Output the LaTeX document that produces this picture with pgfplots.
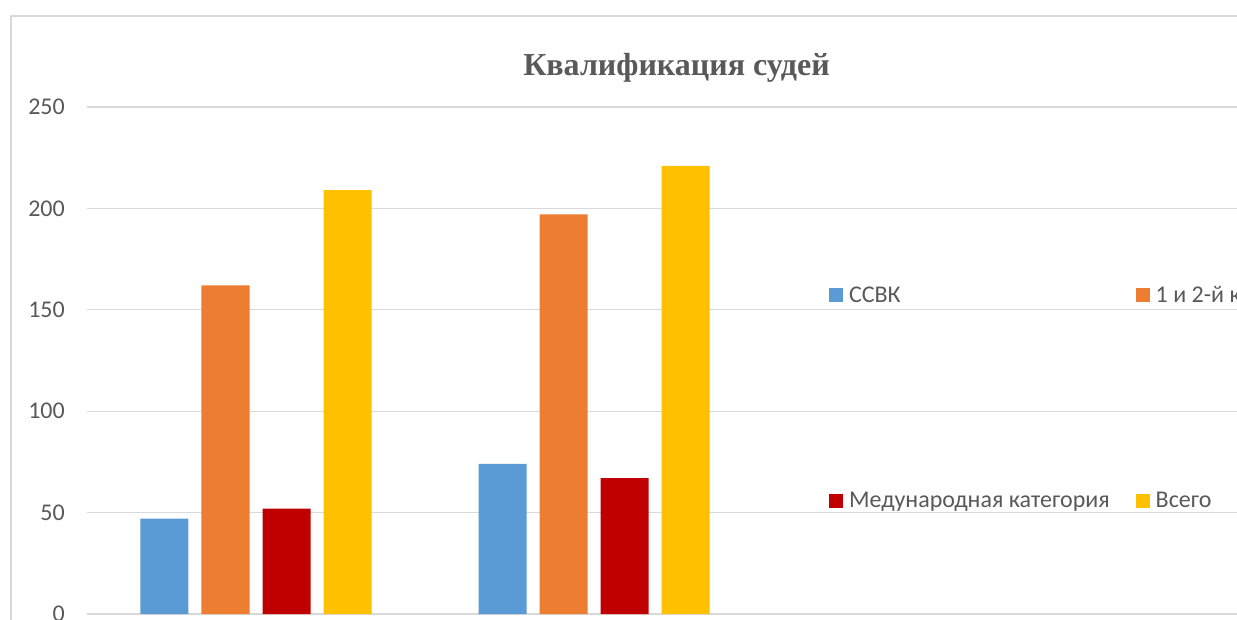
\documentclass[border=0pt]{standalone}
\usepackage{fontspec}
\setmainfont{Carlito}
\newfontfamily\titlefont{Liberation Serif}
\usepackage{pgfplots}
\pgfplotsset{compat=1.18}
\definecolor{cblue}{HTML}{5B9BD5}
\definecolor{corange}{HTML}{ED7D31}
\definecolor{cred}{HTML}{C00000}
\definecolor{cyellow}{HTML}{FFC000}
\definecolor{txtgray}{HTML}{595959}
\definecolor{gridgray}{HTML}{D9D9D9}
\begin{document}
\begin{tikzpicture}[x=1pt,y=1pt]
\useasboundingbox (0,0) rectangle (1237,619);
\clip (0,0) rectangle (1237,619);
\fill[white] (0,0) rectangle (1237,619);
\draw[gridgray, line width=1.6pt] (11,-10) -- (11,603) -- (1300,603);
\begin{axis}[
  at={(87pt,5pt)}, anchor=south west,
  scale only axis, width=1150pt, height=507pt,
  xmin=0, xmax=3.4024, ymin=0, ymax=250,
  xtick=\empty,
  ytick={0,50,100,150,200,250},
  ymajorgrids, grid style={gridgray, line width=1.3pt},
  axis line style={draw=none},
  major tick style={draw=none},
  /pgf/number format/assume math mode=true,
  yticklabel style={font=\fontsize{24}{28}\selectfont, text=txtgray, inner sep=0pt, xshift=-22pt},
  ybar, bar width=48pt,
  title={\titlefont\bfseries Квалификация судей},
  title style={font=\fontsize{32}{38}\selectfont, text=txtgray, at={(axis description cs:0.5126,1.0500)}, anchor=base, inner sep=0pt},
  legend columns=2,
  legend image code/.code={\fill[#1] (0pt,-7pt) rectangle (14pt,7pt);},
  legend style={draw=none, fill=none, at={(axis description cs:0.6452,0.6462)}, anchor=north west,
    inner sep=0pt, font=\fontsize{24}{28}\selectfont, text=txtgray,
    nodes={inner sep=0pt}, column sep=6pt, row sep=188pt,
    /tikz/every even column/.append style={column sep=26pt}},
  legend cell align=left,
]
\addplot[fill=cblue, draw=none, bar shift=-91.5pt] coordinates {(0.5,47) (1.5,74)};
\addplot[fill=corange, draw=none, bar shift=-30.5pt] coordinates {(0.5,162) (1.5,197)};
\addplot[fill=cred, draw=none, bar shift=30.5pt] coordinates {(0.5,52) (1.5,67)};
\addplot[fill=cyellow, draw=none, bar shift=91.5pt] coordinates {(0.5,209) (1.5,221)};
\legend{ССВК, 1 и 2-й категория, Медународная категория, Всего}
\end{axis}
\end{tikzpicture}
\end{document}
